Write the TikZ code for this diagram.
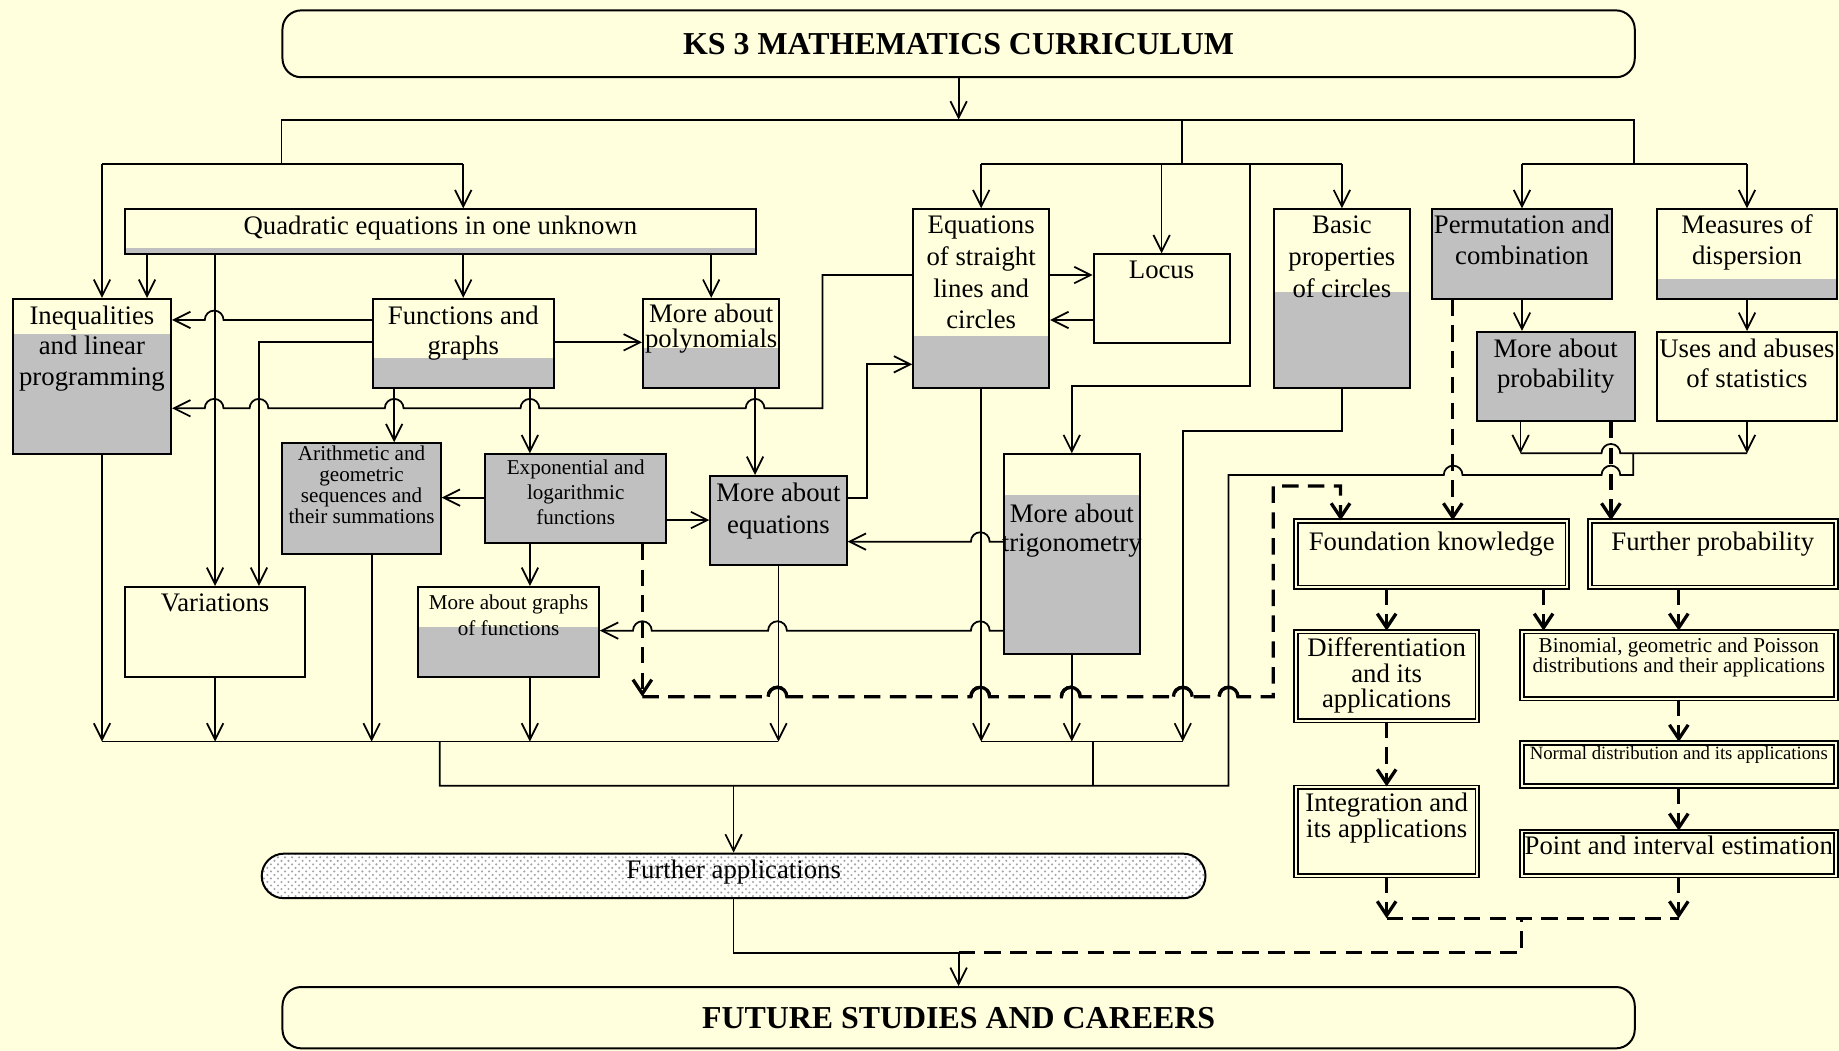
\documentclass[tikz,border=0pt]{standalone}
\usepackage{fontspec}
\setmainfont{Liberation Serif}
\usetikzlibrary{arrows.meta,patterns}
\definecolor{bgc}{RGB}{255,255,221}
\definecolor{silv}{RGB}{192,192,192}
\begin{document}
\begin{tikzpicture}[x=0.5pt,y=0.5pt,line width=0.75pt,
 >={Straight Barb[length=7pt,width=7pt]},
 box/.style={draw,line width=0.85pt,fill=bgc,inner sep=0pt,anchor=north west},
 dbl/.style={box,double=bgc,double distance=0.8pt,line width=0.8pt},
 sz/.style 2 args={minimum width=#1*0.5pt,minimum height=#2*0.5pt},
 gr/.style={path picture={\fill[silv](path picture bounding box.south west)rectangle++(1600,#1);}},
 tx/.style={anchor=north,align=center,inner sep=3pt,font=\fontsize{11.4}{13}\selectfont},
 sm/.style={font=\fontsize{9}{#1}\selectfont},
 big/.style={font=\fontsize{13.6}{16}\selectfont\bfseries},
 dsh/.style={line width=1.4pt,dash pattern=on 7pt off 4pt,>={Straight Barb[length=6pt,width=8pt]}}]
\useasboundingbox(0,0)rectangle(1568,-896);
\fill[bgc](0,0)rectangle(1568,-896);
%boxes
\node[box,sz={1153}{57},rounded corners=8pt,big](title)at(240,-8){KS 3 MATHEMATICS CURRICULUM};
\node[box,sz={538.3}{38.4},gr=5.7,label={[tx]north:Quadratic equations in one unknown}](quad)at(105.5,-177.6){};
\node[box,sz={135}{132.5},gr=102.9,label={[tx]north:{Inequalities\\and linear\\programming}}](ineq)at(10,-254){};
\node[box,sz={154.3}{75.7},gr=25,label={[tx]north:{Functions and\\graphs}}](fg)at(317,-254){};
\node[box,sz={116.3}{75.7},gr=34.1,label={[tx,font=\fontsize{11.4}{11}\selectfont,inner sep=2pt]north:{More about\\polynomials}}](poly)at(547.4,-254){};
\node[box,sz={115.9}{152.1},gr=44.1,label={[tx,font=\fontsize{11.4}{13.5}\selectfont]north:{Equations\\of straight\\lines and\\circles}}](eqs)at(777.8,-177.6){};
\node[box,sz={115.9}{75.3},label={[tx]north:Locus}](locus)at(931.6,-216){};
\node[box,sz={115.4}{152.1},gr=81.6,label={[tx,font=\fontsize{11.4}{13.5}\selectfont]north:{Basic\\properties\\of circles}}](basic)at(1085.6,-177.6){};
\node[box,sz={153.1}{76.2},gr=200,label={[tx,inner sep=2.5pt]north:{Permutation and\\combination}}](perm)at(1220.3,-177.6){};
\node[box,sz={153.2}{76.2},gr=16.5,label={[tx,inner sep=2.5pt]north:{Measures of\\dispersion}}](disp)at(1412.1,-177.6){};
\node[box,sz={134.6}{75.9},gr=200,label={[tx]north:{More about\\probability}}](mprob)at(1258.3,-282.2){};
\node[box,sz={153.2}{75.9},label={[tx]north:{Uses and abuses\\of statistics}}](stat)at(1412.1,-282.2){};
\node[box,sz={134.9}{94.7},gr=200,label={[tx,sm=9,inner sep=1pt]north:{Arithmetic and\\geometric\\sequences and\\their summations}}](arith)at(240,-377.1){};
\node[box,sz={154}{75.5},gr=200,label={[tx,sm=10.7,inner sep=2.5pt]north:{Exponential and\\logarithmic\\functions}}](expo)at(413,-386.5){};
\node[box,sz={116.2}{76.2},gr=200,label={[tx,font=\fontsize{11.4}{13.5}\selectfont]north:{More about\\equations}}](meq)at(604.8,-405){};
\node[box,sz={115.8}{170.5},gr=135.8,label={[tx,font=\fontsize{11.4}{12.5}\selectfont,yshift=-18pt]north:{More about\\trigonometry}}](trig)at(855.1,-386.5){};
\node[box,sz={154.1}{76.5},label={[tx]north:Variations}](var)at(105.5,-499.6){};
\node[box,sz={154.1}{76.5},gr=42.4,label={[tx,sm=11,inner sep=3.5pt]north:{More about graphs\\of functions}}](mgraph)at(355.7,-499.6){};
\node[dbl,sz={231.4}{56.4},label={[tx,inner sep=4.5pt]north:Foundation knowledge}](found)at(1104.2,-443.6){};
\node[dbl,sz={209.8}{56.4},label={[tx,inner sep=4.5pt]north:Further probability}](fprob)at(1354.7,-443.6){};
\node[dbl,sz={154.6}{75.9},label={[tx,font=\fontsize{11.4}{11}\selectfont,inner sep=2.5pt]north:{Differentiation\\and its\\applications}}](diff)at(1104.2,-537.7){};
\node[dbl,sz={267.8}{57.2},label={[tx,sm=8.5,inner sep=2.6pt]north:{Binomial, geometric and Poisson\\distributions and their applications}}](binom)at(1296.7,-537.7){};
\node[dbl,sz={267.8}{37.1},label={[tx,font=\fontsize{8}{9}\selectfont,inner sep=1.8pt]north:Normal distribution and its applications}](normal)at(1296.7,-632.5){};
\node[dbl,sz={154.6}{75.3},label={[tx,font=\fontsize{11.4}{11}\selectfont,inner sep=2.5pt]north:{Integration and\\its applications}}](integ)at(1104.2,-670.5){};
\node[dbl,sz={267.8}{37.6},label={[tx,inner sep=2pt]north:Point and interval estimation}](point)at(1296.7,-708.2){};
\node[box,sz={804.7}{38},rounded corners=9.5pt,preaction={fill=white},pattern=crosshatch dots,pattern color=gray!70,label={[tx,anchor=base,yshift=1.5pt]center:Further applications}](furapp)at(222.3,-727){};
\node[box,sz={1153}{52.3},rounded corners=8pt,big](future)at(240,-840.7){FUTURE STUDIES AND CAREERS};
%top links
\draw[->](title.south)--(title.south |- 0,-102);
\draw(240,-140)|-(1393,-102)--(1393,-140);
\draw(1008,-102)--(1008,-140);
\draw(87,-140)--(395,-140);
\draw(eqs.north |- 0,-140)--(basic.north |- 0,-140);
\draw(perm.north |- 0,-140)--(disp.north |- 0,-140);
\draw[->](87,-140)--(87,-140 |- ineq.north);
\draw[->](395,-140)--(395,-140 |- quad.north);
\draw[->](eqs.north |- 0,-140)--(eqs.north);
\draw[->](locus.north |- 0,-140)--(locus.north);
\draw[->](basic.north |- 0,-140)--(basic.north);
\draw[->](perm.north |- 0,-140)--(perm.north);
\draw[->](disp.north |- 0,-140)--(disp.north);
\draw[->](1066,-140)|-(trig.north |- 0,-329)--(trig.north);
%quadratic
\draw[->](quad.south -| 125.4,0)--(ineq.north -| 125.4,0);
\draw[->](quad.south -| var.north)--(var.north);
\draw[->](quad.south -| fg.north)--(fg.north);
\draw[->](quad.south -| poly.north)--(poly.north);
%functions
\draw[->](fg.west |- 0,-272.8)--(190.6,-272.8)arc[start angle=0,end angle=180,radius=8]--(ineq.east |- 0,-272.8);
\draw[->](fg.west |- 0,-291.9)-|(var.north -| 220.8,0);
\draw[->](fg.east |- 0,-291.9)--(poly.west |- 0,-291.9);
\draw[->](fg.south -| 336.1,0)--(arith.north -| 336.1,0);
\draw[->](fg.south -| 451.8,0)--(expo.north -| 451.8,0);
\draw[->](eqs.west |- 0,-234.5)-|(701.3,-348.1)--(651.8,-348.1)arc[start angle=0,end angle=180,radius=8]
 --(459.8,-348.1)arc[start angle=0,end angle=180,radius=8]--(344.1,-348.1)arc[start angle=0,end angle=180,radius=8]
 --(228.8,-348.1)arc[start angle=0,end angle=180,radius=8]--(190.6,-348.1)arc[start angle=0,end angle=180,radius=8]
 --(ineq.east |- 0,-348.1);
\draw[->](poly.south -| 643.8,0)--(meq.north -| 643.8,0);
\draw[->](eqs.east |- 0,-234.5)--(locus.west |- 0,-234.5);
\draw[->](locus.west |- 0,-272.8)--(eqs.east |- 0,-272.8);
\draw[->](meq.east |- 0,-424.3)-|(739.5,-310.6)--(eqs.west |- 0,-310.6);
%exponential
\draw[->](expo.west |- 0,-424.3)--(arith.east |- 0,-424.3);
\draw[->](expo.east |- 0,-443.4)--(meq.west |- 0,-443.4);
\draw[->](expo.south -| 451.8,0)--(mgraph.north -| 451.8,0);
%trigonometry
\draw[->](trig.west |- 0,-461.8)--(843.8,-461.8)arc[start angle=0,end angle=180,radius=8]--(meq.east |- 0,-461.8);
\draw[->](trig.west |- 0,-537.7)--(843.8,-537.7)arc[start angle=0,end angle=180,radius=8]
 --(670.9,-537.7)arc[start angle=0,end angle=180,radius=8]--(555.7,-537.7)arc[start angle=0,end angle=180,radius=8]
 --(mgraph.east |- 0,-537.7);
%lower bus
\draw(87,-632.3)--(meq.south |- 0,-632.3);
\draw[->](ineq.south -| 87,0)--(87,-632.3);
\draw[->](var.south)--(var.south |- 0,-632.3);
\draw[->](arith.south -| 316.9,0)--(316.9,-632.3);
\draw[->](mgraph.south -| 451.8,0)--(451.8,-632.3);
\draw[->](meq.south)--(meq.south |- 0,-632.3);
\draw(eqs.south |- 0,-632.3)--(1008.5,-632.3);
\draw[->](eqs.south)--(eqs.south |- 0,-632.3);
\draw[->](trig.south)--(trig.south |- 0,-632.3);
\draw[->](basic.south)|-(1008.5,-367.5)--(1008.5,-632.3);
\draw(374.9,-632.3)|-(1047.5,-670)--(1047.5,-405)--(1231,-405)arc[start angle=180,end angle=0,radius=8]
 --(1365.5,-405)arc[start angle=180,end angle=0,radius=8]--(1392.6,-405)--(1392.6,-386.5);
\draw(931.6,-632.3)--(931.6,-670);
\draw[->](furapp.north |- 0,-670)--(furapp.north);
%statistics
\draw[->](perm.south)--(perm.south |- mprob.north);
\draw[->](disp.south)--(stat.north);
\draw[->](mprob.south -| 1296.5,0)--(1296.5,-386.5);
\draw[->](stat.south)--(stat.south |- 0,-386.5);
\draw(1296.5,-386.5)--(1365.5,-386.5)arc[start angle=180,end angle=0,radius=8]--(stat.south |- 0,-386.5);
%dashed
\draw[dsh,->](perm.south -| 1238.7,0)--(found.north -| 1238.7,0);
\draw[dsh,->](mprob.south -| 1373.5,0)--(fprob.north -| 1373.5,0);
\draw[dsh,->](found.south -| diff.north)--(diff.north);
\draw[dsh,->](found.south -| 1316.1,0)--(binom.north -| 1316.1,0);
\draw[dsh,->](fprob.south -| binom.north)--(binom.north);
\draw[dsh,->](binom.south)--(normal.north);
\draw[dsh,->](normal.south)--(point.north);
\draw[dsh,->](diff.south)--(integ.north);
\draw[dsh,->](expo.south -| 547.7,0)--(547.7,-594);
\draw[dsh,->](547.7,-594)--(654.9,-594)arc[start angle=180,end angle=0,radius=8]
 --(827.8,-594)arc[start angle=180,end angle=0,radius=8]--(905,-594)arc[start angle=180,end angle=0,radius=8]
 --(1000.5,-594)arc[start angle=180,end angle=0,radius=8]--(1039.5,-594)arc[start angle=180,end angle=0,radius=8]
 --(1085.6,-594)|-(1143,-414.4)--(1143,-414.4 |- found.north);
\foreach \c in {654.9,827.8,905,1000.5,1039.5}
 \draw[line width=1.4pt](\c,-594)arc[start angle=180,end angle=0,radius=8];
\draw[dsh,->](integ.south)--(integ.south |- 0,-783);
\draw[dsh,->](point.south)--(point.south |- 0,-783);
\draw[dsh](integ.south |- 0,-783)--(point.south |- 0,-783);
\draw[dsh](future.north |- 0,-812.3)-|(1297,-783);
%to future
\draw(furapp.south)|-(future.north |- 0,-812.3);
\draw[->](future.north |- 0,-812.3)--(future.north);
\end{tikzpicture}
\end{document}
